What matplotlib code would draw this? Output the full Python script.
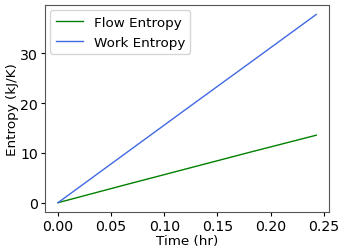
import numpy as np
import matplotlib
matplotlib.use("Agg")
import matplotlib.pyplot as plt

# values
time_hr = [0.0, 0.06, 0.12, 0.18, 0.243]
flow_entropy = [0.0, 3.4, 6.75, 10.1, 13.55]
work_entropy = [0.0, 9.35, 18.7, 28.0, 37.8]

fig = plt.figure(figsize=(3.39, 2.51), dpi=100)
ax = fig.add_axes([0.133, 0.151, 0.838, 0.825])
ax.plot(time_hr, flow_entropy, color="green", lw=1.0, label="Flow Entropy")
ax.plot(time_hr, work_entropy, color="royalblue", lw=1.0, label="Work Entropy")
ax.set_xlabel("Time (hr)", fontsize=9.7, labelpad=1)
ax.set_ylabel("Entropy (kJ/K)", fontsize=9.7, labelpad=1)
ax.set_xticks([0.0, 0.05, 0.10, 0.15, 0.20, 0.25])
ax.set_yticks([0, 10, 20, 30])
ax.tick_params(labelsize=10.2, length=3, pad=2)
for s in ax.spines.values():
    s.set_color("#555555")
ax.legend(loc="upper left", fontsize=9.7, handlelength=2.0, borderaxespad=0.4)

fig.savefig("out.png", dpi=100)
